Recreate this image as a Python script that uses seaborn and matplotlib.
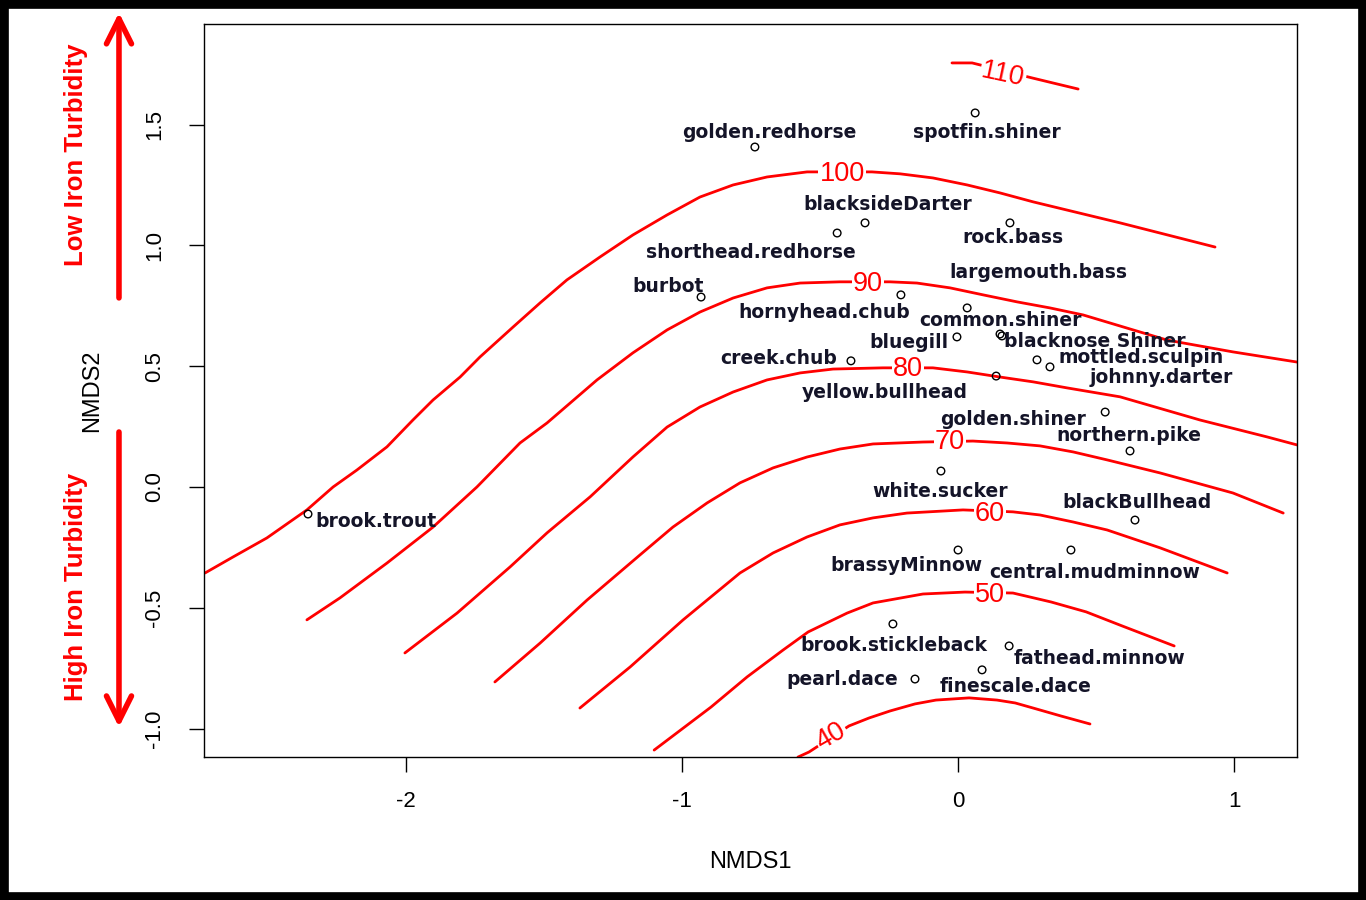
import matplotlib
matplotlib.use("Agg")
import matplotlib.pyplot as plt
from matplotlib.patches import Rectangle
import seaborn as sns

# species scores (NMDS1, NMDS2)
species = ["spotfin.shiner", "golden.redhorse", "blacksideDarter", "shorthead.redhorse",
           "rock.bass", "burbot", "hornyhead.chub", "largemouth.bass", "bluegill",
           "common.shiner", "blacknose Shiner", "mottled.sculpin", "johnny.darter",
           "creek.chub", "yellow.bullhead", "golden.shiner", "northern.pike",
           "white.sucker", "brook.trout", "blackBullhead", "brassyMinnow",
           "central.mudminnow", "brook.stickleback", "fathead.minnow",
           "finescale.dace", "pearl.dace"]
pt_x = [0.062, -0.736, -0.337, -0.438, 0.188, -0.931, -0.207, 0.033, -0.004,
        0.152, 0.159, 0.286, 0.333, -0.388, 0.138, 0.533, 0.623, -0.062,
        -2.355, 0.641, 0.000, 0.409, -0.236, 0.185, 0.087, -0.156]
pt_y = [1.548, 1.407, 1.093, 1.051, 1.093, 0.786, 0.795, 0.741, 0.621,
        0.633, 0.625, 0.526, 0.497, 0.522, 0.459, 0.310, 0.149, 0.066,
        -0.112, -0.137, -0.261, -0.261, -0.567, -0.658, -0.757, -0.795]
# where each name was printed
lab_x = [0.105, -0.685, -0.254, -0.750, 0.199, -1.051, -0.486, 0.290, -0.178,
         0.152, 0.496, 0.663, 0.736, -0.649, -0.264, 0.199, 0.620, -0.065,
         -2.109, 0.649, -0.188, 0.496, -0.232, 0.514, 0.210, -0.420]
lab_y = [1.465, 1.465, 1.171, 0.969, 1.031, 0.828, 0.724, 0.886, 0.596,
         0.691, 0.604, 0.534, 0.455, 0.530, 0.393, 0.281, 0.215, -0.017,
         -0.141, -0.066, -0.327, -0.356, -0.658, -0.712, -0.824, -0.795]

# fitted surface contours
c110_x = [-0.022, 0.051, 0.268, 0.344, 0.435]
c110_y = [1.755, 1.755, 1.693, 1.672, 1.647]
c100_x = [-2.728, -2.627, -2.504, -2.359, -2.264, -2.178, -2.069, -1.975, -1.902, -1.804,
          -1.732, -1.612, -1.514, -1.417, -1.297, -1.178, -1.054, -0.935, -0.815, -0.692,
          -0.547, -0.312, -0.210, -0.091, 0.033, 0.152, 0.272, 0.395, 0.587, 0.931]
c100_y = [-0.356, -0.290, -0.211, -0.095, 0.000, 0.070, 0.166, 0.277, 0.360, 0.455,
          0.538, 0.662, 0.762, 0.857, 0.952, 1.043, 1.126, 1.200, 1.250, 1.283,
          1.304, 1.304, 1.296, 1.279, 1.250, 1.217, 1.180, 1.146, 1.093, 0.993]
c90_x = [-2.359, -2.239, -2.069, -1.902, -1.743, -1.587, -1.489, -1.308, -1.178, -1.054,
         -0.935, -0.815, -0.692, -0.572, -0.428, -0.246, -0.149, -0.029, 0.091, 0.214,
         0.333, 0.453, 0.757, 0.996, 1.228]
c90_y = [-0.550, -0.459, -0.315, -0.166, 0.000, 0.182, 0.265, 0.443, 0.555, 0.650,
         0.724, 0.782, 0.824, 0.844, 0.849, 0.849, 0.844, 0.824, 0.795, 0.766,
         0.741, 0.712, 0.608, 0.559, 0.517]
c80_x = [-2.004, -1.815, -1.623, -1.489, -1.333, -1.178, -1.054, -0.935, -0.815, -0.692,
         -0.572, -0.453, -0.272, -0.091, 0.033, 0.152, 0.272, 0.395, 0.587, 0.877,
         1.120, 1.228]
c80_y = [-0.687, -0.522, -0.331, -0.190, -0.041, 0.124, 0.248, 0.331, 0.393, 0.443,
         0.472, 0.488, 0.493, 0.493, 0.476, 0.455, 0.435, 0.410, 0.373, 0.277,
         0.207, 0.174]
c70_x = [-1.678, -1.514, -1.344, -1.152, -1.033, -0.909, -0.790, -0.670, -0.547, -0.428,
         -0.308, -0.127, 0.054, 0.178, 0.297, 0.417, 0.540, 0.732, 0.996, 1.178]
c70_y = [-0.807, -0.646, -0.468, -0.281, -0.166, -0.066, 0.017, 0.079, 0.124, 0.157,
         0.178, 0.186, 0.190, 0.182, 0.170, 0.145, 0.112, 0.058, -0.025, -0.108]
c60_x = [-1.370, -1.188, -0.996, -0.909, -0.790, -0.670, -0.547, -0.428, -0.308, -0.185,
         0.018, 0.199, 0.297, 0.417, 0.540, 0.732, 0.975]
c60_y = [-0.915, -0.745, -0.550, -0.468, -0.356, -0.273, -0.207, -0.157, -0.128, -0.108,
         -0.095, -0.103, -0.116, -0.145, -0.178, -0.252, -0.356]
c50_x = [-1.101, -0.895, -0.764, -0.634, -0.543, -0.402, -0.308, -0.127, 0.025, 0.199,
         0.337, 0.464, 0.594, 0.783]
c50_y = [-1.089, -0.911, -0.786, -0.675, -0.600, -0.522, -0.480, -0.443, -0.435, -0.439,
         -0.476, -0.517, -0.575, -0.658]
c40_x = [-0.58, -0.54, -0.395, -0.322, -0.246, -0.156, -0.080, 0.040, 0.141, 0.207,
         0.272, 0.373, 0.478]
c40_y = [-1.118, -1.097, -0.989, -0.956, -0.927, -0.898, -0.882, -0.873, -0.882, -0.894,
         -0.915, -0.948, -0.981]

levels = [110, 100, 90, 80, 70, 60, 50, 40]
level_lab_x = [0.163, -0.420, -0.326, -0.181, -0.029, 0.116, 0.116, -0.460]
level_lab_y = [1.705, 1.296, 0.840, 0.488, 0.186, -0.112, -0.447, -1.031]
level_rot = [-12, 0, 0, 0, 0, 0, 0, 30]

xticks = [-2, -1, 0, 1]
yticks = [-1.0, -0.5, 0.0, 0.5, 1.0, 1.5]

sns.set_style("ticks")
plt.rcParams["font.family"] = ["Liberation Sans", "DejaVu Sans"]

fig = plt.figure(figsize=(13.66, 9), dpi=100)
ax = fig.add_axes([0.1493, 0.1589, 0.8002, 0.8144])

contours = [(c110_x, c110_y), (c100_x, c100_y), (c90_x, c90_y), (c80_x, c80_y),
            (c70_x, c70_y), (c60_x, c60_y), (c50_x, c50_y), (c40_x, c40_y)]
for cx, cy in contours:
    sns.lineplot(x=cx, y=cy, sort=False, estimator=None, color="red",
                 linewidth=2, solid_joinstyle="round", ax=ax, zorder=2)

for lev, lx, ly, rot in zip(levels, level_lab_x, level_lab_y, level_rot):
    ax.text(lx, ly, str(lev), color="red", fontsize=19.5, ha="center", va="center",
            rotation=rot, zorder=2.5,
            bbox=dict(facecolor="white", edgecolor="none", pad=1))

sns.scatterplot(x=pt_x, y=pt_y, marker="o", s=30, facecolor="none",
                edgecolor="black", linewidth=1, ax=ax, zorder=3)

for name, lx, ly in zip(species, lab_x, lab_y):
    ax.text(lx, ly, name, ha="center", va="center", fontsize=13.5,
            fontweight="bold", family=["DejaVu Sans"], color="#141428", zorder=4)

ax.set_xlim(-2.732, 1.228)
ax.set_ylim(-1.1176, 1.916)
ax.set_xticks(xticks)
ax.set_xticklabels([str(t) for t in xticks])
ax.set_yticks(yticks)
ax.set_yticklabels([f"{t:.1f}" for t in yticks], rotation=90, va="center")
ax.tick_params(axis="both", direction="out", length=10.8, width=1,
               labelsize=16, colors="black")
ax.tick_params(axis="x", pad=14)
ax.tick_params(axis="y", pad=17)
for sp in ax.spines.values():
    sp.set_visible(True)
    sp.set_color("black")
    sp.set_linewidth(1)
ax.set_xlabel("NMDS1", fontsize=17, labelpad=28, color="black")
ax.set_ylabel("NMDS2", fontsize=17, labelpad=30, color="black")

# gradient annotation on the left
arrow_style = dict(arrowstyle="->,head_length=0.9,head_width=0.45", color="red",
                   lw=4, mutation_scale=20, shrinkA=0, shrinkB=0)
ax.annotate("", xy=(0.0871, 0.986), xytext=(0.0871, 0.669),
            xycoords="figure fraction", textcoords="figure fraction",
            arrowprops=arrow_style)
ax.annotate("", xy=(0.0871, 0.192), xytext=(0.0871, 0.52),
            xycoords="figure fraction", textcoords="figure fraction",
            arrowprops=arrow_style)
fig.text(0.0556, 0.828, "Low Iron Turbidity", rotation=90, color="red",
         fontsize=18.5, fontweight="bold", ha="center", va="center")
fig.text(0.0556, 0.348, "High Iron Turbidity", rotation=90, color="red",
         fontsize=18.5, fontweight="bold", ha="center", va="center")

fig.patches.append(Rectangle((0, 0), 1, 1, transform=fig.transFigure, fill=False,
                             edgecolor="black", linewidth=12))

fig.savefig("out.png", dpi=100)
